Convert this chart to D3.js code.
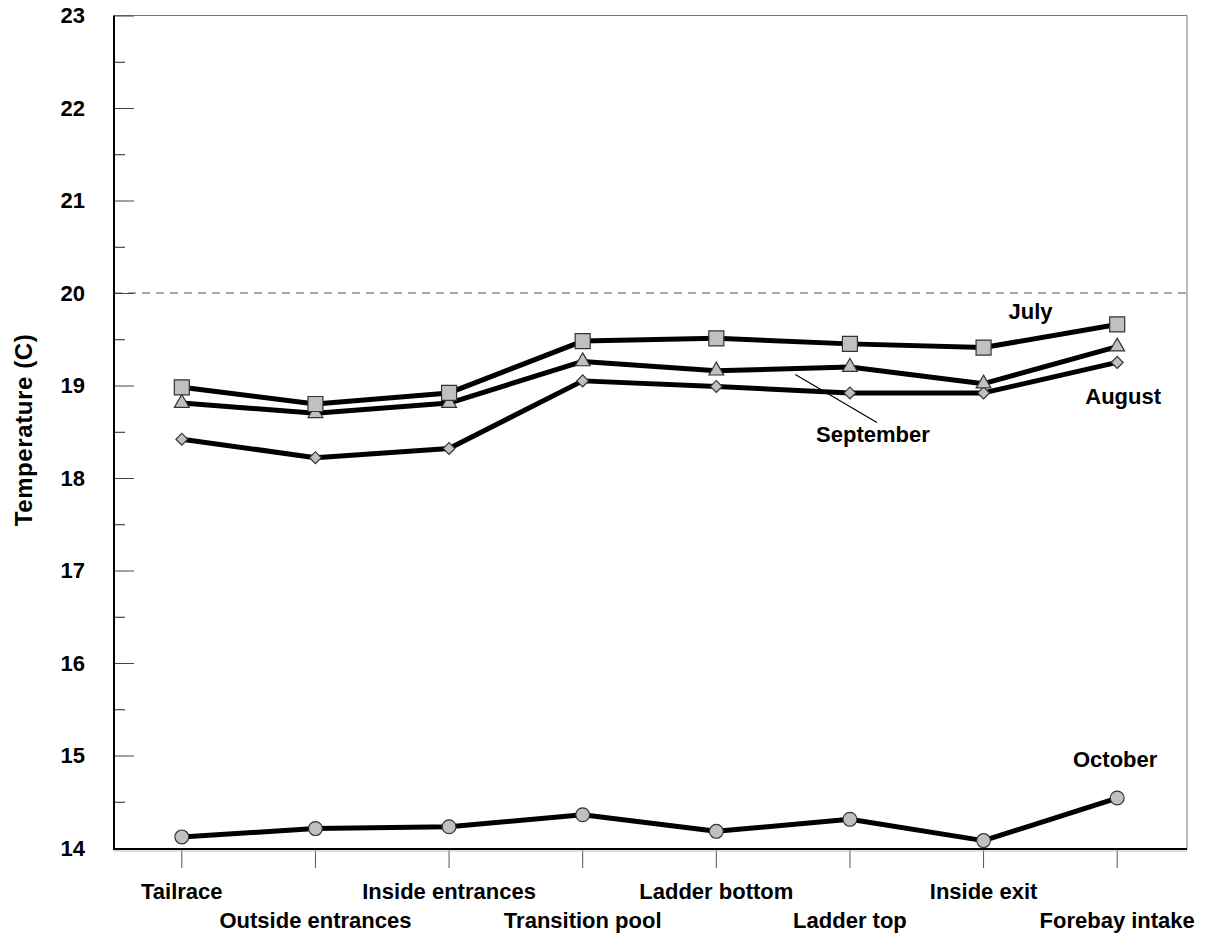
<!DOCTYPE html>
<html>
<head>
<meta charset="utf-8">
<script src="https://d3js.org/d3.v7.min.js"></script>
<style>
  body { margin: 0; background: #fff; }
  svg text { font-family: "Liberation Sans", Arial, sans-serif; font-weight: bold; fill: #000; }
  .tick text { font-size: 22px; }
  .series-label { font-size: 22px; }
  .y-title { font-size: 24px; }
</style>
</head>
<body>
<div id="chart"></div>
<script>
// ---- data ----
var sites = ["Tailrace", "Outside entrances", "Inside entrances", "Transition pool",
             "Ladder bottom", "Ladder top", "Inside exit", "Forebay intake"];
var july      = [18.98, 18.80, 18.92, 19.48, 19.51, 19.45, 19.41, 19.66];
var september = [18.81, 18.70, 18.81, 19.26, 19.16, 19.20, 19.02, 19.42];
var august    = [18.42, 18.22, 18.32, 19.05, 18.99, 18.92, 18.92, 19.25];
var october   = [14.12, 14.21, 14.23, 14.36, 14.18, 14.31, 14.08, 14.54];
var yTicks = [14, 15, 16, 17, 18, 19, 20, 21, 22, 23];
var yMinor = [14.5, 15.5, 16.5, 17.5, 18.5, 19.5, 20.5, 21.5, 22.5];
var refLine = 20;

var width = 1210, height = 934;
var plotLeft = 114, plotRight = 1187, plotTop = 15.5, plotBottom = 849;

var svg = d3.select("#chart").append("svg")
  .attr("width", width)
  .attr("height", height);

var x = d3.scaleBand().domain(sites).range([115, 1184]).padding(0);
var cx = function(d) { return x(d) + x.bandwidth() / 2; };
var y = d3.scaleLinear().domain([14, 23]).range([plotBottom - 1, plotTop]);

// frame: top and right are thin grey
svg.append("line").attr("x1", plotLeft).attr("x2", plotRight).attr("y1", plotTop).attr("y2", plotTop)
  .attr("stroke", "#777").attr("stroke-width", 1);
svg.append("line").attr("x1", plotRight).attr("x2", plotRight).attr("y1", plotTop).attr("y2", plotBottom)
  .attr("stroke", "#777").attr("stroke-width", 1);

// dashed 20 C line
svg.append("line")
  .attr("x1", plotLeft).attr("x2", plotRight)
  .attr("y1", y(refLine)).attr("y2", y(refLine))
  .attr("stroke", "#555").attr("stroke-width", 1.2)
  .attr("stroke-dasharray", "8,6");

// y axis (ticks pointing inside)
var yAxis = svg.append("g")
  .attr("transform", "translate(" + plotLeft + ",0)")
  .call(d3.axisLeft(y).tickValues(yTicks).tickSize(-20).tickPadding(29).tickFormat(d3.format("d")));
yAxis.select(".domain").remove();
yAxis.selectAll(".tick line").attr("stroke", "#444");

var yAxisMinor = svg.append("g")
  .attr("transform", "translate(" + plotLeft + ",0)")
  .call(d3.axisLeft(y).tickValues(yMinor).tickSize(-11).tickFormat(""));
yAxisMinor.select(".domain").remove();
yAxisMinor.selectAll(".tick line").attr("stroke", "#222");

// x axis
var xAxis = svg.append("g")
  .attr("transform", "translate(0," + plotBottom + ")")
  .call(d3.axisBottom(x).tickSize(19).tickPadding(0));
xAxis.select(".domain").remove();
xAxis.selectAll(".tick line").attr("stroke", "#555");
xAxis.selectAll(".tick text")
  .attr("dy", 0)
  .attr("y", function(d, i) { return i % 2 === 0 ? 50 : 79; });

// axis lines
svg.append("line").attr("x1", plotLeft).attr("x2", plotLeft).attr("y1", plotTop).attr("y2", plotBottom + 1)
  .attr("stroke", "#000").attr("stroke-width", 2);
svg.append("line").attr("x1", plotLeft).attr("x2", plotRight).attr("y1", plotBottom).attr("y2", plotBottom)
  .attr("stroke", "#000").attr("stroke-width", 2);
svg.append("line").attr("x1", plotLeft).attr("x2", plotRight).attr("y1", plotBottom + 2).attr("y2", plotBottom + 2)
  .attr("stroke", "#bbb").attr("stroke-width", 1);

// y title
svg.append("text")
  .attr("class", "y-title")
  .attr("transform", "translate(32,430) rotate(-90)")
  .attr("text-anchor", "middle")
  .attr("letter-spacing", "0.6")
  .text("Temperature (C)");

// series
var line = d3.line()
  .x(function(d, i) { return cx(sites[i]); })
  .y(function(d) { return y(d); });

var series = [
  { name: "October", values: october, shape: d3.symbolCircle, size: 150, rot: 0 },
  { name: "August", values: august, shape: d3.symbolSquare, size: 70, rot: 45 },
  { name: "September", values: september, shape: d3.symbolTriangle, size: 95, rot: 0 },
  { name: "July", values: july, shape: d3.symbolSquare, size: 225, rot: 0 }
];

series.forEach(function(s) {
  svg.append("path")
    .datum(s.values)
    .attr("fill", "none")
    .attr("stroke", "#000")
    .attr("stroke-width", 5)
    .attr("stroke-linejoin", "round")
    .attr("d", line);

  svg.selectAll(".pt-" + s.name)
    .data(s.values)
    .enter()
    .append("path")
    .attr("class", "pt-" + s.name)
    .attr("transform", function(d, i) {
      return "translate(" + cx(sites[i]) + "," + y(d) + ") rotate(" + s.rot + ")";
    })
    .attr("d", d3.symbol().type(s.shape).size(s.size))
    .attr("fill", "#c0c0c0")
    .attr("stroke", "#333")
    .attr("stroke-width", 1.2);
});

// series labels
svg.append("text").attr("class", "series-label")
  .attr("x", cx("Inside exit") + 47).attr("y", y(19.72))
  .attr("text-anchor", "middle").text("July");
svg.append("text").attr("class", "series-label")
  .attr("x", cx("Forebay intake") + 6).attr("y", y(18.8))
  .attr("text-anchor", "middle").text("August");
svg.append("text").attr("class", "series-label")
  .attr("x", cx("Ladder top") + 23).attr("y", y(18.39))
  .attr("text-anchor", "middle").text("September");
svg.append("text").attr("class", "series-label")
  .attr("x", cx("Forebay intake") - 2).attr("y", y(14.88))
  .attr("text-anchor", "middle").text("October");

// leader line for September
svg.append("line")
  .attr("x1", cx("Ladder bottom") + 79).attr("y1", y(19.12))
  .attr("x2", cx("Ladder top") + 27).attr("y2", y(18.60))
  .attr("stroke", "#000").attr("stroke-width", 1.2);
</script>
</body>
</html>
